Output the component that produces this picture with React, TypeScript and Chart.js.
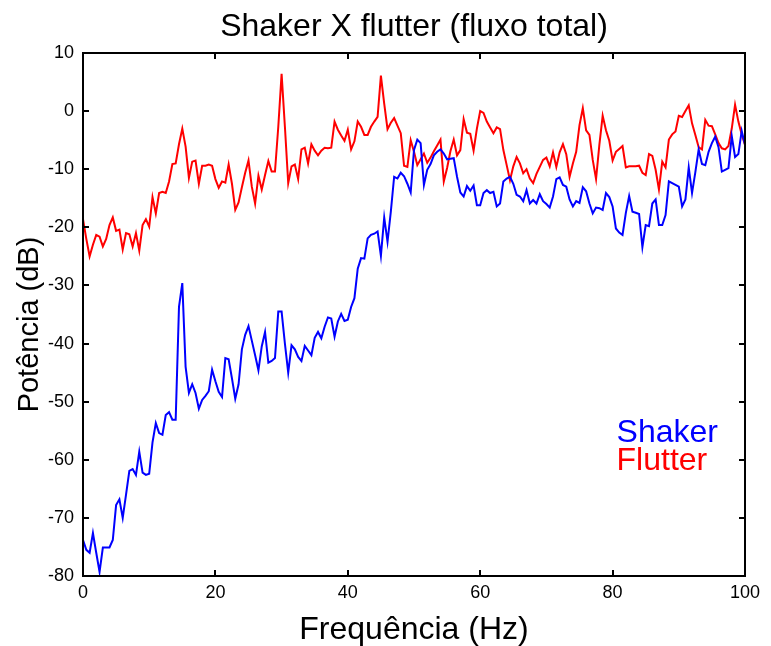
import { useEffect, useRef } from "react";
import { Chart, registerables } from "chart.js";

Chart.register(...registerables);

// Frequency grid step (Hz)
const FREQ_STEP = 0.5;

// Shaker (blue) power, dB, one value per 0.5 Hz from 0 to 100 Hz
const shakerDb = [
  -73.8, -75.5, -76, -72.6, -76, -79.3, -75.1, -75.1, -75.1, -73.8,
  -67.8, -66.8, -70, -66, -61.9, -61.6, -62.6, -58.6, -62.2, -62.6,
  -62.4, -57, -53.7, -55.4, -55.7, -52.3, -51.8, -53.1, -53.1, -33.7,
  -29.6, -44, -48.5, -47, -48.5, -51.2, -49.7, -49, -48.2, -44.5,
  -46.5, -48.3, -49.2, -42.5, -42.7, -46, -49.5, -47, -41, -38.5,
  -37, -39.5, -42, -44.6, -40.5, -38, -43.3, -43, -42.5, -34.5,
  -34.5, -40, -45, -40.3, -41, -42.3, -43, -40.4, -41.2, -42,
  -39, -38, -39.1, -37.1, -35.5, -35.7, -38.8, -36.2, -34.9, -36.1,
  -35.9, -33.7, -32.2, -27.1, -25.3, -25.4, -21.9, -21.3, -21.1, -20.7,
  -24.9, -18.3, -22.5, -17.3, -11.3, -11.6, -10.6, -11.2, -12.5, -14,
  -6.7, -4.9, -5.5, -12.7, -10.1, -9.1, -7.6, -7, -6.6, -7.3,
  -8.3, -8.2, -8.1, -11.3, -14, -14.7, -12.9, -13.7, -12.8, -16.2,
  -16.2, -14.1, -13.6, -14.1, -13.9, -16.4, -15.9, -12.1, -11.6, -11.3,
  -12.5, -14.4, -14.7, -15.5, -13.6, -15.9, -15.3, -15.9, -14.3, -15.5,
  -16, -16.6, -14.7, -11.7, -11.4, -12.7, -13, -15.2, -16.4, -15.5,
  -15.8, -13.1, -13.8, -15.9, -17.6, -16.6, -16.7, -17, -14.1, -14.8,
  -16.4, -20.2, -20.9, -21.3, -17.5, -14.6, -17.3, -17.5, -17.7, -23.4,
  -19.6, -19.8, -15.9, -15.2, -19.6, -19.6, -17.9, -12.1, -12.4, -12.7,
  -13, -16.4, -15.2, -9.7, -14.1, -10.5, -6.6, -9.1, -9.3, -7,
  -5.5, -4.4, -6.2, -10.4, -10.1, -9.8, -4.3, -7.9, -7.4, -3.4,
  -5.8,
];

// Flutter (red) power, dB, one value per 0.5 Hz from 0 to 100 Hz
const flutterDb = [
  -18.6, -22, -25, -23, -21.3, -21.6, -23.3, -22, -19.6, -18.3,
  -20.6, -20.4, -23.8, -21, -21.2, -23.3, -21, -24, -19.6, -18.6,
  -19.9, -14.8, -17.6, -14.1, -13.9, -14.1, -12.1, -9.1, -9, -5.7,
  -3, -6.1, -11.5, -8.7, -8.5, -12.5, -9.4, -9.4, -9.2, -9.4,
  -11.7, -13.2, -12.1, -12.3, -9.2, -12.5, -17, -15.7, -13.1, -10.6,
  -8.5, -13, -15.9, -11.1, -13.5, -11, -8.6, -10.4, -10.4, -2.7,
  6.4, -2.7, -12.4, -9.5, -9.2, -11.7, -6.6, -6.3, -9, -5.7,
  -6.8, -7.6, -6.8, -6.3, -6.4, -6.3, -1.8, -3.2, -4.2, -5.1,
  -3.2, -6.6, -5.2, -1.8, -2.7, -4.1, -4.1, -2.7, -1.8, -1,
  6.1, 1.3, -3.1, -2, -1.2, -2.5, -3.8, -9.4, -9.6, -5,
  -7, -9.3, -8.3, -7.3, -8.9, -8, -6.9, -5.9, -4.9, -12.1,
  -9.8, -6.9, -4.9, -7.6, -6.7, -1.4, -3.7, -3.9, -6.8, -3,
  0, -0.3, -1.8, -2.8, -3.8, -2.8, -3.1, -6.7, -9.3, -11.9,
  -9.5, -7.9, -9, -10.7, -10, -11.6, -12.4, -10.8, -9.6, -8.4,
  -8, -9.5, -7.1, -9.6, -7.1, -5.7, -7.4, -11.3, -9, -7,
  -2.4, 0.5, -3.3, -4.1, -8.4, -11.7, -5.8, -0.8, -3.3, -5.1,
  -8.5, -7, -6.5, -6, -9.7, -9.5, -9.5, -9.5, -9.4, -10.6,
  -11, -7.4, -7.7, -10.1, -13.5, -8.7, -9.7, -4.9, -4, -3.5,
  -0.8, -1, 0, 1, -2.1, -4.1, -6.2, -6.6, -1.5, -2.5,
  -2.6, -4, -5.5, -6.4, -6.6, -6, -3, 1.1, -1.8, -4,
  -5.8,
];

const freqHz = shakerDb.map((_, i) => i * FREQ_STEP);

const xTickValues = [0, 20, 40, 60, 80, 100];
const yTickValues = [-80, -70, -60, -50, -40, -30, -20, -10, 0, 10];

const chartTitle = "Shaker X flutter (fluxo total)";
const yAxisTitle = "Potência (dB)";
const seriesNames = ["Shaker", "Flutter"];
const seriesColors = ["#0000ff", "#ff0000"];
// legend anchor in data coordinates (Hz, dB)
const legendAnchor = { x: 80.6, y: [-55.4, -60.2] };

const FONT = "'Liberation Sans', Arial, Helvetica, sans-serif";

const framePlugin = {
  id: "matlabFrame",
  afterDatasetsDraw(chart: any) {
    const { ctx, chartArea } = chart;
    const { left, right, top, bottom } = chartArea;
    const xs = chart.scales.x;
    const ys = chart.scales.y;
    ctx.save();
    ctx.strokeStyle = "#000";
    ctx.lineWidth = 2;
    ctx.strokeRect(left, top, right - left, bottom - top);
    const tl = 6;
    ctx.beginPath();
    xTickValues.forEach((v) => {
      const px = Math.round(xs.getPixelForValue(v));
      ctx.moveTo(px, bottom);
      ctx.lineTo(px, bottom - tl);
      ctx.moveTo(px, top);
      ctx.lineTo(px, top + tl);
    });
    yTickValues.forEach((v) => {
      const py = Math.round(ys.getPixelForValue(v));
      ctx.moveTo(left, py);
      ctx.lineTo(left + tl, py);
      ctx.moveTo(right, py);
      ctx.lineTo(right - tl, py);
    });
    ctx.stroke();

    // title centred over the plot area
    ctx.fillStyle = "#000";
    ctx.font = `32px ${FONT}`;
    ctx.textAlign = "center";
    ctx.textBaseline = "middle";
    ctx.fillText(chartTitle, (left + right) / 2, top - 26);

    // y axis title
    ctx.save();
    ctx.font = `29px ${FONT}`;
    ctx.translate(30, (top + bottom) / 2 + 10);
    ctx.rotate(-Math.PI / 2);
    ctx.fillText(yAxisTitle, 0, 0);
    ctx.restore();

    // text legend
    ctx.font = `32px ${FONT}`;
    ctx.textAlign = "left";
    ctx.textBaseline = "middle";
    seriesNames.forEach((name, i) => {
      ctx.fillStyle = seriesColors[i];
      ctx.fillText(
        name,
        xs.getPixelForValue(legendAnchor.x),
        ys.getPixelForValue(legendAnchor.y[i])
      );
    });
    ctx.restore();
  },
};

export default function App() {
  const ref = useRef<HTMLCanvasElement | null>(null);

  useEffect(() => {
    if (!ref.current) return;
    Chart.defaults.font.family = FONT;
    Chart.defaults.color = "#000";
    const chart = new Chart(ref.current, {
      type: "line",
      data: {
        datasets: [
          {
            label: seriesNames[0],
            data: shakerDb.map((v, i) => ({ x: freqHz[i], y: v })),
            borderColor: seriesColors[0],
            borderWidth: 2,
            pointRadius: 0,
            tension: 0,
            fill: false,
          },
          {
            label: seriesNames[1],
            data: flutterDb.map((v, i) => ({ x: freqHz[i], y: v })),
            borderColor: seriesColors[1],
            borderWidth: 2,
            pointRadius: 0,
            tension: 0,
            fill: false,
          },
        ],
      },
      options: {
        animation: false,
        responsive: false,
        devicePixelRatio: 1,
        layout: { padding: { left: 0, right: 26, top: 53, bottom: 0 } },
        plugins: {
          legend: { display: false },
          tooltip: { enabled: false },
          title: { display: false },
        },
        scales: {
          x: {
            type: "linear",
            min: 0,
            max: 100,
            afterBuildTicks: (s: any) => {
              s.ticks = xTickValues.map((v) => ({ value: v }));
            },
            afterFit: (s: any) => {
              s.height = 70;
            },
            grid: { display: false, drawTicks: false },
            border: { display: false },
            ticks: {
              font: { size: 18 },
              color: "#000",
              padding: 6,
              maxRotation: 0,
              autoSkip: false,
            },
            title: {
              display: true,
              text: "Frequência (Hz)",
              color: "#000",
              font: { size: 32, lineHeight: 1 },
              padding: { top: 0, bottom: 0 },
            },
          },
          y: {
            type: "linear",
            min: -80,
            max: 10,
            afterBuildTicks: (s: any) => {
              s.ticks = yTickValues.map((v) => ({ value: v }));
            },
            afterFit: (s: any) => {
              s.width = 83;
            },
            grid: { display: false, drawTicks: false },
            border: { display: false },
            ticks: {
              font: { size: 18 },
              color: "#000",
              padding: 9,
              autoSkip: false,
            },
            title: { display: false },
          },
        },
      },
      plugins: [framePlugin],
    } as any);
    return () => chart.destroy();
  }, []);

  return (
    <canvas
      ref={ref}
      width={771}
      height={646}
      style={{ position: "absolute", left: 0, top: 0, width: 771, height: 646 }}
    />
  );
}
